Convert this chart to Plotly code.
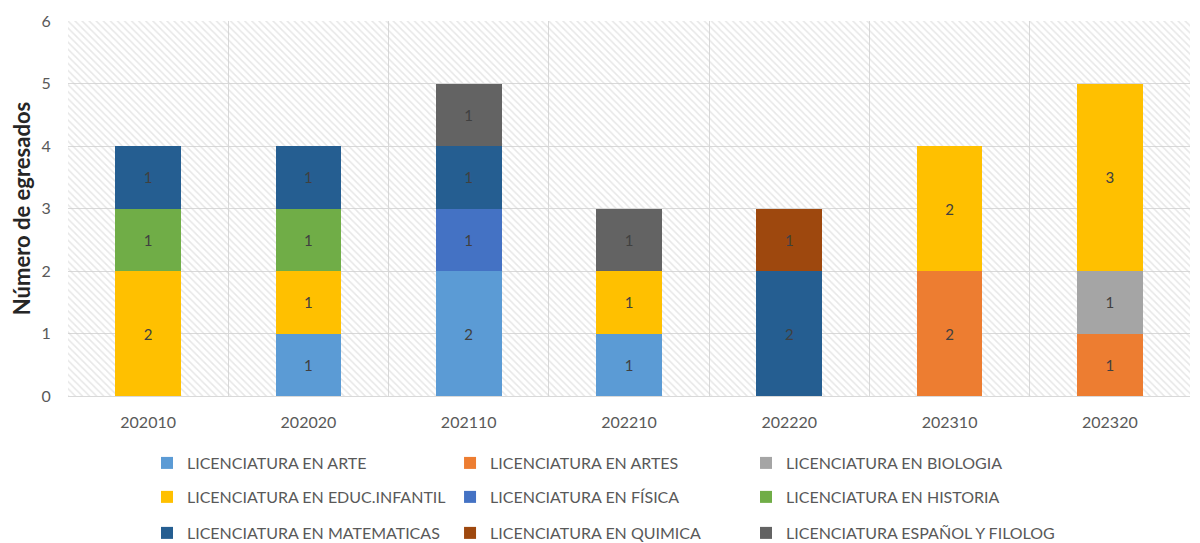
import plotly.graph_objects as go

categories = ["202010", "202020", "202110", "202210", "202220", "202310", "202320"]

series_names = [
    "LICENCIATURA EN ARTE",
    "LICENCIATURA EN ARTES",
    "LICENCIATURA EN BIOLOGIA",
    "LICENCIATURA EN EDUC.INFANTIL",
    "LICENCIATURA EN FÍSICA",
    "LICENCIATURA EN HISTORIA",
    "LICENCIATURA EN MATEMATICAS",
    "LICENCIATURA EN QUIMICA",
    "LICENCIATURA ESPAÑOL Y FILOLOG",
]

arte = [None, 1, 2, 1, None, None, None]
artes = [None, None, None, None, None, 2, 1]
biologia = [None, None, None, None, None, None, 1]
educ_infantil = [2, 1, None, 1, None, 2, 3]
fisica = [None, None, 1, None, None, None, None]
historia = [1, 1, None, None, None, None, None]
matematicas = [1, 1, 1, None, 2, None, None]
quimica = [None, None, None, None, 1, None, None]
espanol = [None, None, 1, 1, None, None, None]

series_values = [arte, artes, biologia, educ_infantil, fisica, historia,
                 matematicas, quimica, espanol]

colors = ["#5B9BD5", "#ED7D31", "#A5A5A5", "#FFC000", "#4472C4",
          "#70AD47", "#255E91", "#9E480E", "#636363"]

FONT = "Lato"

# legend grid layout (3 columns x 3 rows)
legend_cols_x = [0.0704, 0.3405, 0.6043]
legend_rows_y = [-0.1787, -0.2693, -0.3653]

fig = go.Figure()

# hatched plot-area background (on hidden base axes)
fig.add_trace(go.Bar(
    x=[0.5], y=[1], width=[1], xaxis="x", yaxis="y",
    marker=dict(color="rgba(0,0,0,0)", line=dict(width=0),
                pattern=dict(shape="\\", fgcolor="#cfcfcf", bgcolor="rgba(0,0,0,0)",
                             size=5, solidity=0.3)),
    showlegend=False, hoverinfo="skip",
))

legend_layout = {}
for i, (name, vals, col) in enumerate(zip(series_names, series_values, colors)):
    lid = "legend" if i == 0 else f"legend{i + 1}"
    fig.add_trace(go.Bar(
        name=name, x=categories, y=vals, xaxis="x2", yaxis="y2",
        marker=dict(color=col, line=dict(width=0)),
        width=0.41,
        texttemplate="%{y}", textposition="inside", insidetextanchor="middle",
        textangle=0,
        textfont=dict(color="#404040", size=15, family=FONT),
        legend=lid,
    ))
    legend_layout[lid] = dict(
        orientation="h", x=legend_cols_x[i % 3], y=legend_rows_y[i // 3],
        xanchor="left", yanchor="middle",
        font=dict(size=16, color="#595959", family=FONT),
        itemwidth=30, bgcolor="rgba(0,0,0,0)",
    )

fig.update_layout(
    width=1200, height=543,
    margin=dict(l=60, r=18, t=13, b=155, autoexpand=False),
    paper_bgcolor="white", plot_bgcolor="white",
    barmode="stack",
    font=dict(family=FONT, color="#595959", size=16),
    xaxis=dict(range=[0, 1], visible=False, fixedrange=True),
    yaxis=dict(range=[0, 1], visible=False, fixedrange=True),
    xaxis2=dict(overlaying="x", anchor="y2", side="bottom", type="category",
                tickson="boundaries", showgrid=True, gridcolor="#d9d9d9", gridwidth=1,
                showline=True, linecolor="#d9d9d9", ticks="", ticklabelstandoff=12,
                automargin=False,
                tickfont=dict(size=16, color="#595959", family=FONT),
                range=[-0.5, 6.5]),
    yaxis2=dict(overlaying="y", anchor="x2", side="left", range=[0, 6], dtick=1,
                showgrid=True, gridcolor="#d9d9d9", gridwidth=1, zeroline=False,
                showline=False, ticks="outside", ticklen=13, tickcolor="rgba(0,0,0,0)",
                automargin=False,
                tickfont=dict(size=16, color="#595959", family=FONT),
                title=dict(text="<b>Número de egresados</b>", standoff=8,
                           font=dict(size=22, color="#262626", family=FONT))),
    showlegend=True,
    **legend_layout,
)

fig.write_html("out.html")
